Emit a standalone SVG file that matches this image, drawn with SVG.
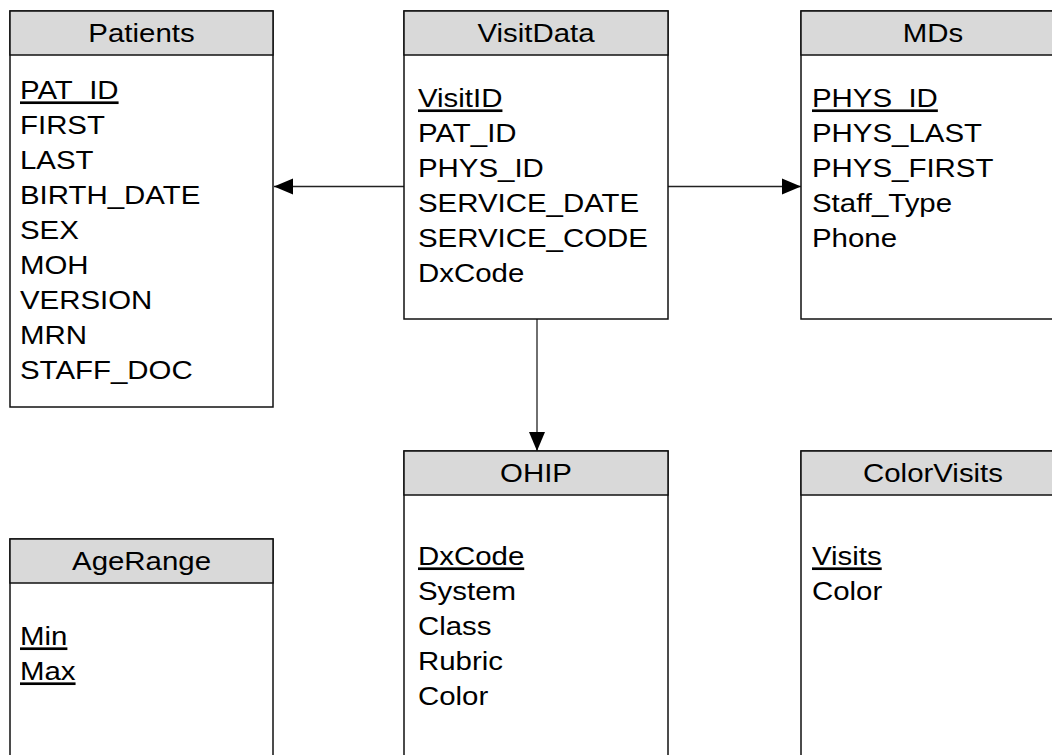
<svg xmlns="http://www.w3.org/2000/svg" width="1052" height="755" viewBox="0 0 1052 755">
  <style>
    .box { fill: #ffffff; stroke: #111111; stroke-width: 1.5; }
    .head { fill: #d9d9d9; stroke: #111111; stroke-width: 1.5; }
    .title { font-family: "Liberation Sans", Arial, sans-serif; font-size: 26.5px; fill: #000000; text-anchor: middle; }
    .field { font-family: "Liberation Sans", Arial, sans-serif; font-size: 26.5px; fill: #000000; }
    .key { text-decoration: underline; }
    .link { stroke: #222222; stroke-width: 1.3; fill: none; marker-end: url(#arrow); }
  </style>
  <defs>
    <marker id="arrow" markerWidth="20" markerHeight="18" refX="19" refY="9" orient="auto" markerUnits="userSpaceOnUse">
      <path d="M0,1 L19,9 L0,17 Z" fill="#000000"/>
    </marker>
  </defs>

  <rect width="1052" height="755" fill="#ffffff"/>

  <!-- relationships -->
  <g id="connectors">
    <line class="link" x1="404" y1="186.5" x2="274" y2="186.5"/>
    <line class="link" x1="668" y1="186.5" x2="801" y2="186.5"/>
    <line class="link" x1="537" y1="319" x2="537" y2="451"/>
  </g>

  <!-- tables: text is set in a slightly widened Arial-metric face -->
  <g id="patients">
    <rect class="box" x="10" y="11" width="263" height="396"/>
    <rect class="head" x="10" y="11" width="263" height="44"/>
    <text class="title" transform="translate(141.5,41.5) scale(1.11,1)">Patients</text>
    <text class="field" transform="translate(20,0) scale(1.11,1)">
      <tspan class="key" x="0" y="99.5">PAT_ID</tspan>
      <tspan x="0" y="134.5">FIRST</tspan>
      <tspan x="0" y="169.5">LAST</tspan>
      <tspan x="0" y="204.5">BIRTH_DATE</tspan>
      <tspan x="0" y="239.5">SEX</tspan>
      <tspan x="0" y="274.5">MOH</tspan>
      <tspan x="0" y="309.5">VERSION</tspan>
      <tspan x="0" y="344.5">MRN</tspan>
      <tspan x="0" y="379.5">STAFF_DOC</tspan>
    </text>
  </g>

  <g id="visitdata">
    <rect class="box" x="404" y="11" width="264" height="308"/>
    <rect class="head" x="404" y="11" width="264" height="44"/>
    <text class="title" transform="translate(536,41.5) scale(1.11,1)">VisitData</text>
    <text class="field" transform="translate(418,0) scale(1.11,1)">
      <tspan class="key" x="0" y="107.5">VisitID</tspan>
      <tspan x="0" y="142.5">PAT_ID</tspan>
      <tspan x="0" y="177.5">PHYS_ID</tspan>
      <tspan x="0" y="212.5">SERVICE_DATE</tspan>
      <tspan x="0" y="247.5">SERVICE_CODE</tspan>
      <tspan x="0" y="282.5">DxCode</tspan>
    </text>
  </g>

  <g id="mds">
    <rect class="box" x="801" y="11" width="264" height="308"/>
    <rect class="head" x="801" y="11" width="264" height="44"/>
    <text class="title" transform="translate(933,41.5) scale(1.11,1)">MDs</text>
    <text class="field" transform="translate(812,0) scale(1.11,1)">
      <tspan class="key" x="0" y="107.5">PHYS_ID</tspan>
      <tspan x="0" y="142.5">PHYS_LAST</tspan>
      <tspan x="0" y="177.5">PHYS_FIRST</tspan>
      <tspan x="0" y="212.5">Staff_Type</tspan>
      <tspan x="0" y="247.5">Phone</tspan>
    </text>
  </g>

  <g id="agerange">
    <rect class="box" x="10" y="539" width="263" height="230"/>
    <rect class="head" x="10" y="539" width="263" height="44"/>
    <text class="title" transform="translate(141.5,569.5) scale(1.11,1)">AgeRange</text>
    <text class="field" transform="translate(20,0) scale(1.11,1)">
      <tspan class="key" x="0" y="645.5">Min</tspan>
      <tspan class="key" x="0" y="680.5">Max</tspan>
    </text>
  </g>

  <g id="ohip">
    <rect class="box" x="404" y="451" width="264" height="320"/>
    <rect class="head" x="404" y="451" width="264" height="44"/>
    <text class="title" transform="translate(536,481.5) scale(1.11,1)">OHIP</text>
    <text class="field" transform="translate(418,0) scale(1.11,1)">
      <tspan class="key" x="0" y="565.5">DxCode</tspan>
      <tspan x="0" y="600.5">System</tspan>
      <tspan x="0" y="635.5">Class</tspan>
      <tspan x="0" y="670.5">Rubric</tspan>
      <tspan x="0" y="705.5">Color</tspan>
    </text>
  </g>

  <g id="colorvisits">
    <rect class="box" x="801" y="451" width="264" height="320"/>
    <rect class="head" x="801" y="451" width="264" height="44"/>
    <text class="title" transform="translate(933,481.5) scale(1.11,1)">ColorVisits</text>
    <text class="field" transform="translate(812,0) scale(1.11,1)">
      <tspan class="key" x="0" y="565.5">Visits</tspan>
      <tspan x="0" y="600.5">Color</tspan>
    </text>
  </g>
</svg>
